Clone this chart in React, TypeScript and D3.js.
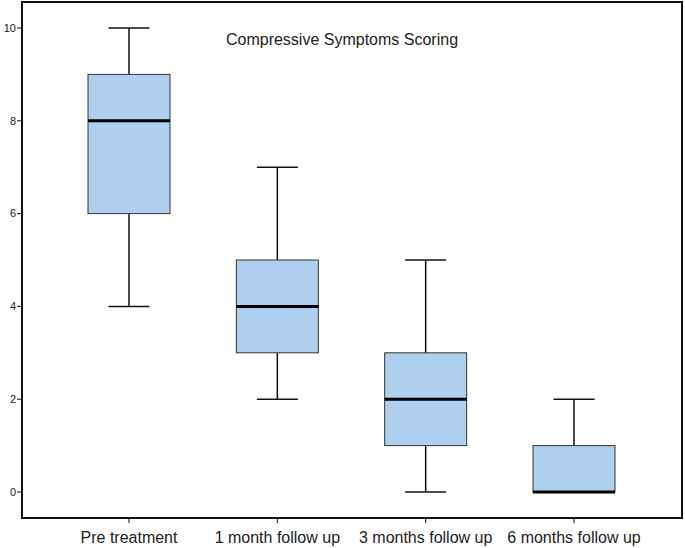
import React from 'react';
import * as d3 from 'd3';

const categories = ['Pre treatment', '1 month follow up', '3 months follow up', '6 months follow up'];
const minValues = [4, 2, 0, 0];
const q1Values = [6, 3, 1, 0];
const medianValues = [8, 4, 2, 0];
const q3Values = [9, 5, 3, 1];
const maxValues = [10, 7, 5, 2];
const yTicks = [0, 2, 4, 6, 8, 10];

const width = 685;
const height = 548;
const frame = { left: 22, right: 682, top: 2, bottom: 518 };
const boxWidth = 82;
const capWidth = 41;
const font = 'Arial, "Liberation Sans", sans-serif';

const App: React.FC = () => {
  const y = d3.scaleLinear().domain([-0.56, 10.56]).range([frame.bottom, frame.top]);
  const x = d3.scalePoint<string>().domain(categories).range([129, 574]);

  return (
    <svg
      width={width}
      height={height}
      style={{ position: 'absolute', left: 0, top: 0, background: '#fff' }}
      fontFamily={font}
    >
      <rect x={0} y={0} width={width} height={height} fill="#fff" />
      <text x={342} y={45} textAnchor="middle" fontSize={16} fill="#222">
        Compressive Symptoms Scoring
      </text>

      {categories.map((c, i) => {
        const cx = x(c)!;
        return (
          <g key={c}>
            <line x1={cx} x2={cx} y1={y(maxValues[i])} y2={y(q3Values[i])} stroke="#111" strokeWidth={1.5} />
            <line x1={cx} x2={cx} y1={y(q1Values[i])} y2={y(minValues[i])} stroke="#111" strokeWidth={1.5} />
            <line x1={cx - capWidth / 2} x2={cx + capWidth / 2} y1={y(maxValues[i])} y2={y(maxValues[i])} stroke="#111" strokeWidth={1.5} />
            <line x1={cx - capWidth / 2} x2={cx + capWidth / 2} y1={y(minValues[i])} y2={y(minValues[i])} stroke="#111" strokeWidth={1.5} />
            <rect
              x={cx - boxWidth / 2}
              y={y(q3Values[i])}
              width={boxWidth}
              height={y(q1Values[i]) - y(q3Values[i])}
              fill="#aecfee"
              stroke="#333"
              strokeWidth={1}
            />
            <line x1={cx - boxWidth / 2} x2={cx + boxWidth / 2} y1={y(medianValues[i])} y2={y(medianValues[i])} stroke="#000" strokeWidth={3} />
            <line x1={cx} x2={cx} y1={frame.bottom} y2={frame.bottom + 5} stroke="#111" strokeWidth={1} />
            <text x={cx} y={frame.bottom + 25} textAnchor="middle" fontSize={16} fill="#222">
              {c}
            </text>
          </g>
        );
      })}

      {yTicks.map(t => (
        <g key={t}>
          <line x1={frame.left - 5} x2={frame.left} y1={y(t)} y2={y(t)} stroke="#111" strokeWidth={1} />
          <text x={frame.left - 6} y={y(t)} dy="0.35em" textAnchor="end" fontSize={11} fill="#222">
            {t}
          </text>
        </g>
      ))}

      <rect
        x={frame.left}
        y={frame.top}
        width={frame.right - frame.left}
        height={frame.bottom - frame.top}
        fill="none"
        stroke="#111"
        strokeWidth={2}
      />
    </svg>
  );
};

export default App;
